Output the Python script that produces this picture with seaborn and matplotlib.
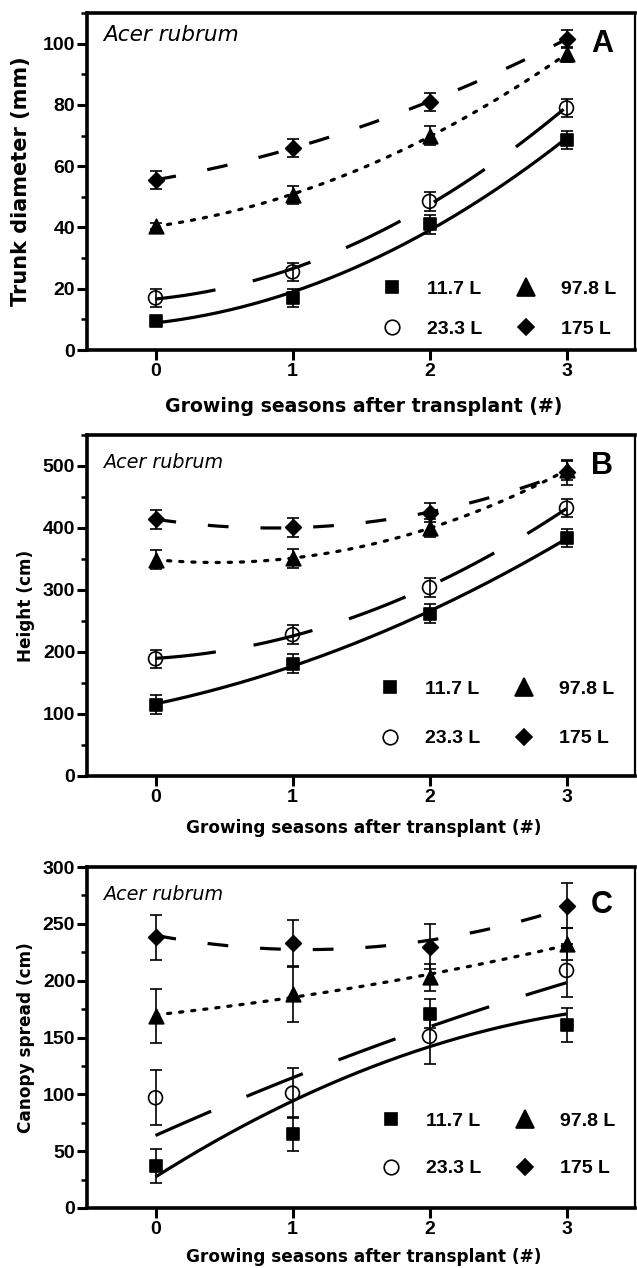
import numpy as np
import pandas as pd
import matplotlib
matplotlib.use("Agg")
import matplotlib.pyplot as plt
import seaborn as sns
from matplotlib.ticker import MultipleLocator
from matplotlib.lines import Line2D

# ---------------- data ----------------
seasons = [0, 1, 2, 3]
containers = ["11.7 L", "23.3 L", "97.8 L", "175 L"]

# Panel A: trunk diameter (mm)
diam_117 = [9.5, 17, 41, 68.5]
diam_233 = [17, 25.5, 48.5, 79]
diam_978 = [40.5, 50.5, 70, 96.5]
diam_175 = [55.5, 66, 81, 101.5]
diam_err_117 = [1, 3, 3, 3]
diam_err_233 = [3, 3, 3, 3]
diam_err_978 = [1, 3, 3, 2.5]
diam_err_175 = [3, 3, 3, 3]

# Panel B: height (cm)
height_117 = [115, 181, 262, 384]
height_233 = [189, 228, 304, 432]
height_978 = [349, 351, 400, 493]
height_175 = [414, 401, 425, 490]
height_err_117 = [15, 15, 15, 15]
height_err_233 = [15, 15, 15, 15]
height_err_978 = [15, 15, 15, 15]
height_err_175 = [15, 15, 15, 20]

# Panel C: canopy spread (cm)
canopy_117 = [37, 65, 171, 161]
canopy_233 = [97, 101, 151, 209]
canopy_978 = [169, 188, 203, 232]
canopy_175 = [238, 233, 230, 266]
canopy_err_117 = [15, 15, 13, 15]
canopy_err_233 = [24, 22, 24, 23]
canopy_err_978 = [24, 24, 12, 14]
canopy_err_175 = [20, 20, 20, 20]
# fitted curve for 23.3 L canopy as drawn (read at seasons 0..3)
canopy_fit_233 = [63, 117, 157, 199]

panel_letters = ["A", "B", "C"]
ylabels = ["Trunk diameter (mm)", "Height (cm)", "Canopy spread (cm)"]
xlabel = "Growing seasons after transplant (#)"
species = "Acer rubrum"

# ---------------- style ----------------
sns.set_style("ticks")
plt.rcParams["font.family"] = ["Liberation Sans", "DejaVu Sans"]
plt.rcParams["font.weight"] = "bold"
for key in ["text.color", "axes.labelcolor", "xtick.color", "ytick.color",
            "axes.edgecolor"]:
    plt.rcParams[key] = "black"
WIDE = ["DejaVu Sans", "Liberation Sans"]

W, H = 637, 1268
fig = plt.figure(figsize=(W / 100, H / 100), dpi=100)

# axes boxes in pixels: (left, top, right, bottom)
boxes = [(87, 13, 635, 350), (87, 435, 635, 776), (87, 867, 635, 1208)]
axes = []
for (l, t, r, b) in boxes:
    axes.append(fig.add_axes([l / W, 1 - b / H, (r - l) / W, (b - t) / H]))

markers = {"11.7 L": "s", "23.3 L": "o", "97.8 L": "^", "175 L": "D"}
msizes = {"11.7 L": 8.5, "23.3 L": 10, "97.8 L": 10.5, "175 L": 8}
leg_sizes = {"11.7 L": 8.5, "23.3 L": 10.5, "97.8 L": 12.5, "175 L": 8.5}
fills = {"11.7 L": "black", "23.3 L": "none", "97.8 L": "black", "175 L": "black"}
lw = 2.3
dash_styles = {
    "11.7 L": "-",
    "23.3 L": (0, (19, 12)),
    "97.8 L": (0, (1.0, 2.8)),
    "175 L": (0, (6.5, 10)),
}
caps = {"11.7 L": "butt", "23.3 L": "butt", "97.8 L": "round", "175 L": "butt"}

panels = [
    dict(vals=[diam_117, diam_233, diam_978, diam_175],
         errs=[diam_err_117, diam_err_233, diam_err_978, diam_err_175],
         fits={}, ylim=(0, 110), major=20, minor=10,
         leg=(0.753, 0.122), legsp=1.16,
         xl_size=13.6, yl_size=15, xl_y=-0.167, yl_x=-0.121,
         sp_size=15.6, sp_y=0.934, let_y=0.908),
    dict(vals=[height_117, height_233, height_978, height_175],
         errs=[height_err_117, height_err_233, height_err_978, height_err_175],
         fits={}, ylim=(0, 550), major=100, minor=50,
         leg=(0.748, 0.182), legsp=1.63,
         xl_size=12.2, yl_size=12.2, xl_y=-0.152, yl_x=-0.112,
         sp_size=13.8, sp_y=0.918, let_y=0.909),
    dict(vals=[canopy_117, canopy_233, canopy_978, canopy_175],
         errs=[canopy_err_117, canopy_err_233, canopy_err_978, canopy_err_175],
         fits={"23.3 L": canopy_fit_233}, ylim=(0, 300), major=50, minor=25,
         leg=(0.75, 0.185), legsp=1.53,
         xl_size=12.2, yl_size=12.2, xl_y=-0.144, yl_x=-0.112,
         sp_size=13.8, sp_y=0.918, let_y=0.889),
]

xs = np.linspace(0, 3, 200)
for i, (ax, p) in enumerate(zip(axes, panels)):
    for name, vals, errs in zip(containers, p["vals"], p["errs"]):
        target = p["fits"].get(name, vals)
        coef = np.polyfit(seasons, target, 2)
        fit_df = pd.DataFrame({"x": xs, "y": np.polyval(coef, xs)})
        sns.lineplot(data=fit_df, x="x", y="y", ax=ax, color="black",
                     linewidth=lw, linestyle=dash_styles[name],
                     solid_capstyle="butt", dash_capstyle=caps[name], zorder=2)
        ax.errorbar(seasons, vals, yerr=errs, fmt="none", ecolor="black",
                    elinewidth=1.2, capsize=4.5, capthick=1.2, zorder=3)
        pts = pd.DataFrame({"x": seasons, "y": vals})
        sns.scatterplot(data=pts, x="x", y="y", ax=ax, marker=markers[name],
                        s=msizes[name] ** 2,
                        facecolor=fills[name], edgecolor="black",
                        linewidth=1.2, zorder=4)

    ax.set_xlim(-0.5, 3.5)
    ax.set_ylim(*p["ylim"])
    ax.set_xticks(seasons)
    ax.yaxis.set_major_locator(MultipleLocator(p["major"]))
    ax.yaxis.set_minor_locator(MultipleLocator(p["minor"]))
    ax.tick_params(axis="both", which="major", direction="out", length=7,
                   width=2.2, labelsize=14, colors="black")
    ax.tick_params(axis="y", which="major", pad=1.5)
    ax.tick_params(axis="x", which="major", pad=2.5)
    ax.tick_params(axis="y", which="minor", direction="out", length=4,
                   width=1.8, colors="black")
    for lab in ax.get_xticklabels() + ax.get_yticklabels():
        lab.set_fontweight("bold")
    for s in ["left", "bottom", "top"]:
        ax.spines[s].set_linewidth(2.6)
    ax.spines["right"].set_linewidth(1.6)
    for s in ax.spines.values():
        s.set_visible(True)
        s.set_color("black")

    ax.set_xlabel(xlabel, fontsize=p["xl_size"], fontweight="bold",
                  family=WIDE, va="center", color="black")
    ax.xaxis.set_label_coords(0.505, p["xl_y"])
    ax.set_ylabel(ylabels[i], fontsize=p["yl_size"], fontweight="bold",
                  family=WIDE, va="center", color="black")
    ax.yaxis.set_label_coords(p["yl_x"], 0.5)

    ax.text(0.029, p["sp_y"], species, transform=ax.transAxes,
            fontsize=p["sp_size"], style="italic", fontweight="normal",
            family=WIDE, ha="left", va="center", color="black")
    ax.text(0.94, p["let_y"], panel_letters[i], transform=ax.transAxes,
            fontsize=22, fontweight="bold", ha="center", va="center",
            color="black")

    handles = []
    for name in containers:
        handles.append(Line2D([], [], linestyle="none", marker=markers[name],
                              markersize=leg_sizes[name],
                              markerfacecolor=fills[name],
                              markeredgecolor="black", markeredgewidth=1.2,
                              label=name))
    leg = ax.legend(handles=handles, ncol=2, loc="center",
                    bbox_to_anchor=p["leg"], frameon=False,
                    prop={"size": 14, "weight": "bold"},
                    handlelength=1.0, handletextpad=1.3, columnspacing=1.75,
                    labelspacing=p["legsp"], borderpad=0.2)
    for t in leg.get_texts():
        t.set_color("black")

fig.savefig("out.png", dpi=100)
